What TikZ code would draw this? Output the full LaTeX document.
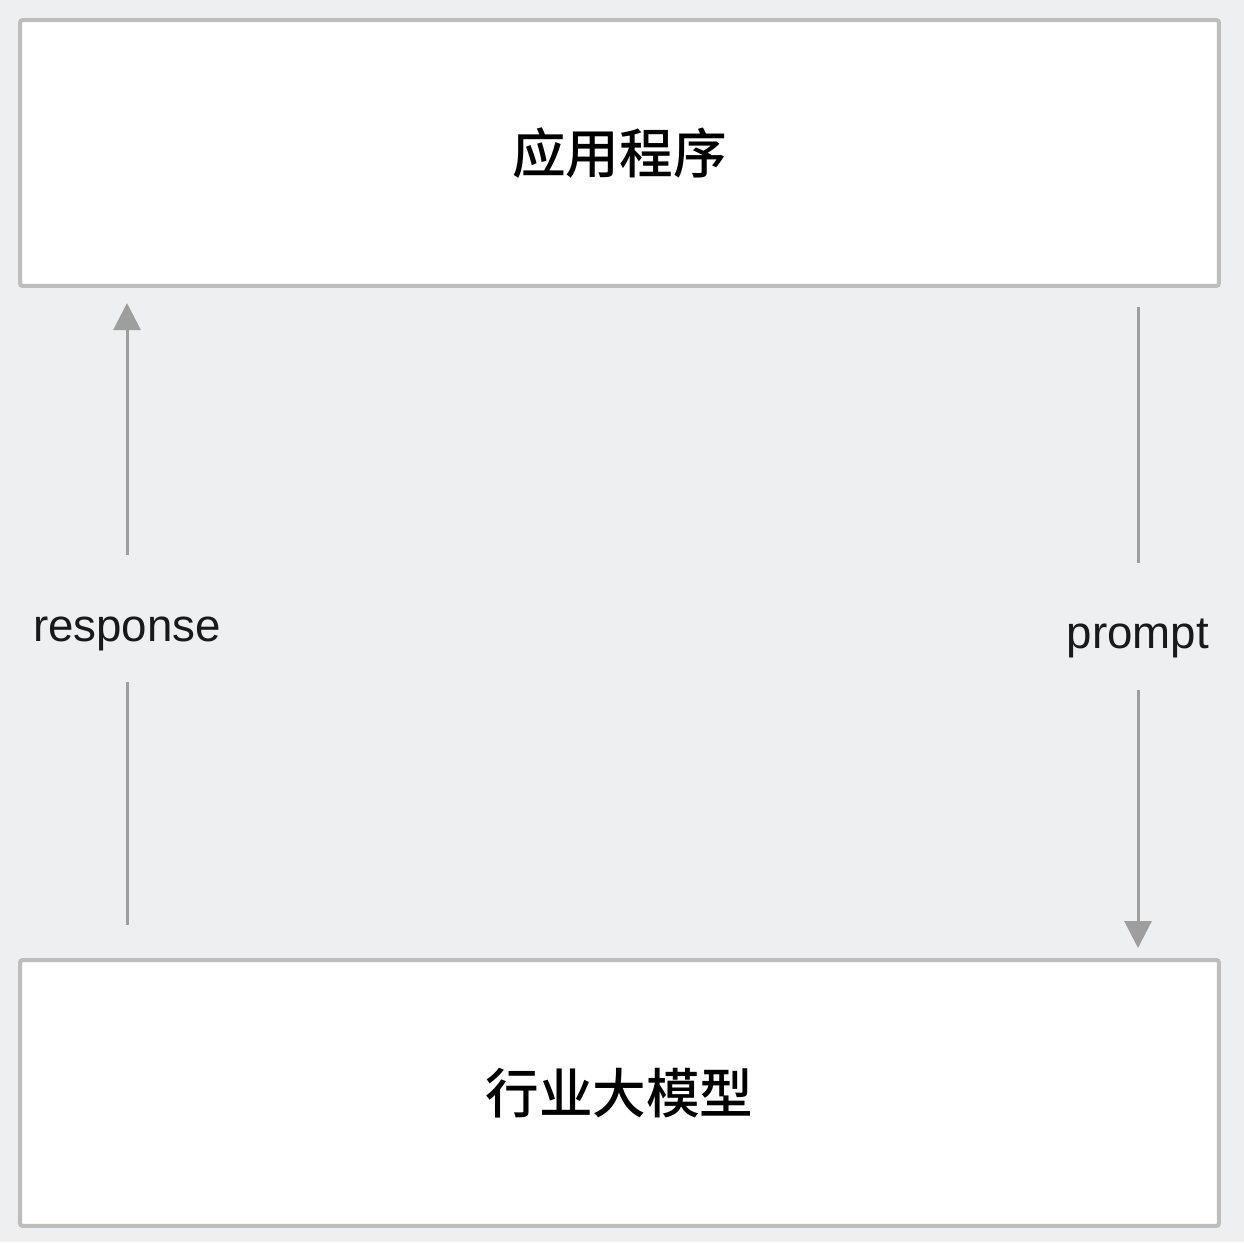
\documentclass[tikz,border=0pt]{standalone}
\usepackage{fontspec}
\setmainfont{Liberation Sans}
\newfontfamily\cjk{Noto Sans CJK SC}[BoldFont={Noto Sans CJK SC Medium}]
\usetikzlibrary{arrows.meta}
\definecolor{bg}{HTML}{EEEFF1}
\definecolor{edge}{HTML}{BDBDBD}
\definecolor{arrowgray}{HTML}{9E9E9E}
\tikzset{
  box/.style={draw=edge,fill=white,line width=0.08cm,rounded corners=0.05cm,
    minimum width=23.98cm,minimum height=5.32cm,font=\cjk\bfseries\fontsize{30.5}{34}\selectfont},
  lbl/.style={anchor=base,font=\fontsize{26}{30}\selectfont,text=black!90},
  wire/.style={draw=arrowgray,line width=0.06cm},
  arr/.style={wire,-{Triangle[width=0.54cm,length=0.54cm]}}
}
\begin{document}
\begin{tikzpicture}[x=0.02cm,y=-0.02cm]
  % canvas, 1px = 0.02cm
  \fill[bg](0,0)rectangle(1244,1242);
  \useasboundingbox(0,0)rectangle(1244,1242);
  % the two layers
  \node[box] (app) at (619.5,153){应用程序};
  \node[box] (llm) at (619.5,1093){行业大模型};
  % left column: response goes up
  \def\xL{127}\def\xR{1138}
  \coordinate (r0) at (\xL,925);\coordinate (r1) at (\xL,682);
  \coordinate (r2) at (\xL,555);\coordinate (r3) at (\xL,303);
  \node[lbl] (resp) at (\xL,641){response};
  \draw[wire](r0)--(r1);
  \draw[arr](r2)--(r3);
  % right column: prompt goes down
  \coordinate (p0) at (\xR,307);\coordinate (p1) at (\xR,563);
  \coordinate (p2) at (\xR,690);\coordinate (p3) at (\xR,948);
  \node[lbl] (prom) at (\xR,648){prompt};
  \draw[wire](p0)--(p1);
  \draw[arr](p2)--(p3);
\end{tikzpicture}
\end{document}
